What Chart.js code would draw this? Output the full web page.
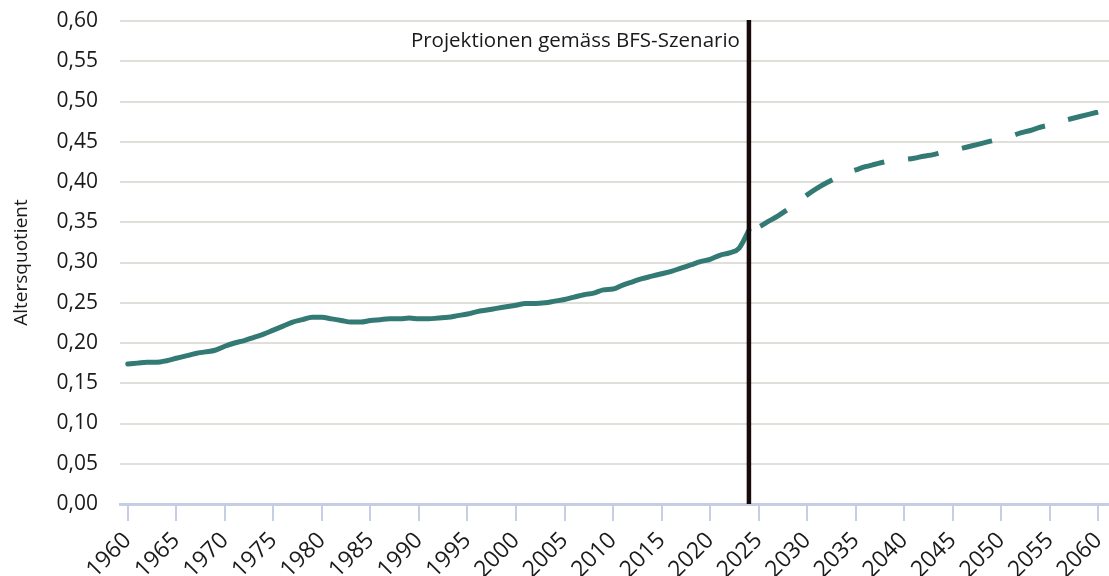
<!DOCTYPE html>
<html lang="de">
<head>
  <meta charset="UTF-8">
  <title>Altersquotient</title>
  <script src="https://cdn.jsdelivr.net/npm/chart.js"></script>
  <style>
    html, body {
      margin: 0;
      padding: 0;
      background: white;
    }
    #wrap {
      width: 1109px;
      height: 576px;
      position: relative;
    }
  </style>
</head>
<body>
  <div id="wrap"><canvas id="chart"></canvas></div>

  <script>
    // Altersquotient, beobachtet 1960-2024
    const histStart = 1960;
    const histValues = [
      0.174, 0.175, 0.176, 0.176, 0.178, 0.181, 0.184, 0.187, 0.189, 0.191,
      0.196, 0.200, 0.203, 0.207, 0.211, 0.216, 0.221, 0.226, 0.229, 0.232,
      0.232, 0.230, 0.228, 0.226, 0.226, 0.228, 0.229, 0.230, 0.230, 0.231,
      0.230, 0.230, 0.231, 0.232, 0.234, 0.236, 0.239, 0.241, 0.243, 0.245,
      0.247, 0.249, 0.249, 0.250, 0.252, 0.254, 0.257, 0.260, 0.262, 0.266,
      0.267, 0.272, 0.276, 0.280, 0.283, 0.286, 0.289, 0.293, 0.297, 0.301,
      0.304, 0.309, 0.312, 0.318, 0.340
    ];

    // Projektion BFS-Szenario 2024-2060
    const projStart = 2024;
    const projValues = [
      0.340, 0.344, 0.351, 0.358, 0.366, 0.375, 0.384, 0.392, 0.399, 0.405,
      0.411, 0.415, 0.419, 0.422, 0.425, 0.427, 0.428, 0.4295, 0.432, 0.434,
      0.437, 0.439, 0.442, 0.445, 0.448, 0.451, 0.454, 0.457, 0.461, 0.464,
      0.468, 0.471, 0.475, 0.478, 0.481, 0.484, 0.487
    ];

    const tickYears = [1960, 1965, 1970, 1975, 1980, 1985, 1990, 1995, 2000, 2005,
      2010, 2015, 2020, 2025, 2030, 2035, 2040, 2045, 2050, 2055, 2060];
    const markerYear = 2024;
    const markerText = 'Projektionen gemäss BFS-Szenario';

    const teal = '#347a74';
    const fontFam = "'Open Sans', sans-serif";

    // senkrechte Linie + Beschriftung
    const markerPlugin = {
      id: 'marker',
      afterDatasetsDraw(chart) {
        const ctx = chart.ctx, area = chart.chartArea;
        const x = chart.scales.x.getPixelForValue(markerYear);
        ctx.save();
        ctx.strokeStyle = '#160a0a';
        ctx.lineWidth = 4.5;
        ctx.beginPath();
        ctx.moveTo(x, area.top - 1);
        ctx.lineTo(x, area.bottom);
        ctx.stroke();
        ctx.font = '20.5px ' + fontFam;
        ctx.fillStyle = '#1a1a1a';
        ctx.textAlign = 'right';
        ctx.textBaseline = 'middle';
        ctx.fillText(markerText, x - 9, area.top + 20);
        ctx.restore();
      }
    };

    new Chart(document.getElementById('chart'), {
      type: 'line',
      data: {
        datasets: [
          {
            data: histValues.map((v, i) => ({ x: histStart + i, y: v })),
            borderColor: teal,
            borderWidth: 5,
            borderCapStyle: 'round',
            pointRadius: 0,
            cubicInterpolationMode: 'monotone'
          },
          {
            data: projValues.map((v, i) => ({ x: projStart + i, y: v })),
            borderColor: teal,
            borderWidth: 5,
            borderDash: [31, 24],
            borderDashOffset: 43,
            pointRadius: 0,
            cubicInterpolationMode: 'monotone'
          }
        ]
      },
      options: {
        responsive: true,
        maintainAspectRatio: false,
        animation: false,
        layout: { padding: { top: 21, right: 0, left: 0, bottom: 0 } },
        plugins: {
          legend: { display: false },
          tooltip: { enabled: false }
        },
        scales: {
          x: {
            type: 'linear',
            min: 1959.2,
            max: 2061.1,
            afterBuildTicks: s => { s.ticks = tickYears.map(v => ({ value: v })); },
            afterFit: s => {
              s.height = 72;
              s.paddingLeft = 0;
              s.paddingRight = 0;
            },
            grid: {
              drawOnChartArea: false,
              drawTicks: true,
              tickLength: 17,
              color: '#c6cee3',
              lineWidth: 2
            },
            border: { display: true, color: '#c6cee3', width: 3 },
            ticks: {
              minRotation: 45,
              maxRotation: 45,
              padding: 6,
              color: '#1a1a1a',
              font: { size: 23, family: fontFam },
              callback: v => String(v)
            }
          },
          y: {
            min: 0,
            max: 0.6,
            afterFit: s => {
              s.width = 120;
              s.paddingTop = 0;
              s.paddingBottom = 0;
            },
            grid: {
              drawTicks: false,
              color: '#e0dfda',
              lineWidth: 2
            },
            border: { display: false },
            ticks: {
              stepSize: 0.05,
              padding: 22,
              color: '#1a1a1a',
              font: { size: 21, family: fontFam },
              callback: v => v.toFixed(2).replace('.', ',')
            },
            title: {
              display: true,
              text: 'Altersquotient',
              color: '#1a1a1a',
              font: { size: 19, family: fontFam },
              padding: { top: 10, bottom: 0 }
            }
          }
        }
      },
      plugins: [markerPlugin]
    });
  </script>
</body>
</html>
